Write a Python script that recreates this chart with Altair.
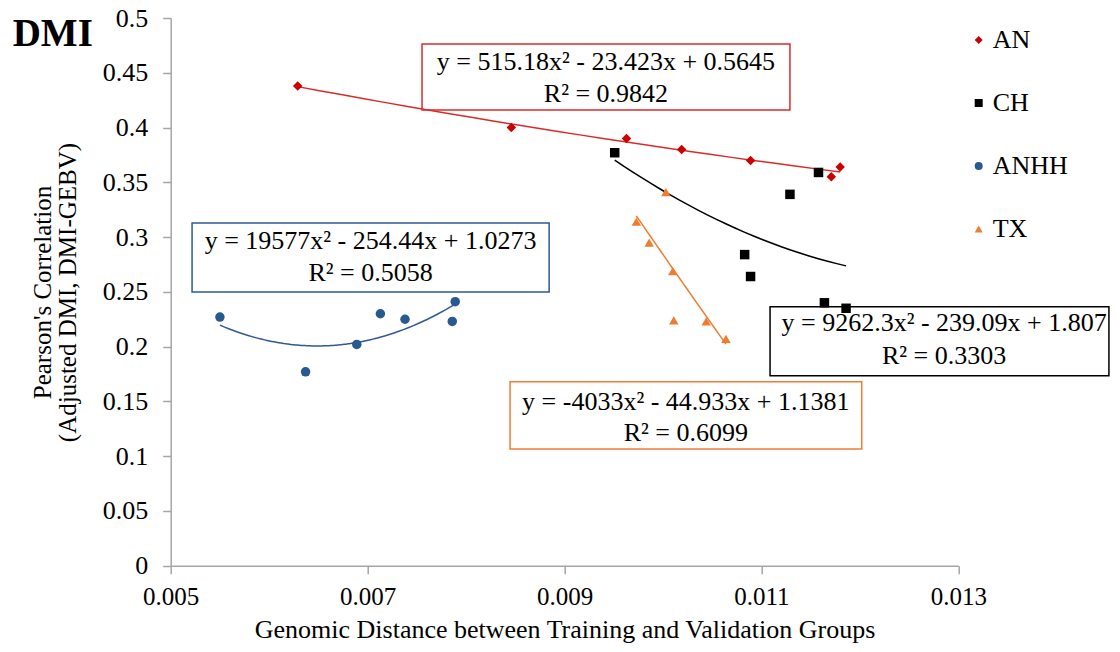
import altair as alt
import pandas as pd

# ---------------- data ----------------
groups = ["AN", "CH", "ANHH", "TX"]
colors = ["#CC0000", "#000000", "#285A91", "#ED7D31"]
line_colors = ["#D92B2B", "#000000", "#2F5A94", "#ED7D31"]
shapes = ["diamond", "square", "circle", "triangle-up"]

an_x = [0.00629, 0.00846, 0.00963, 0.01019, 0.01089, 0.01171, 0.01180]
an_y = [0.438, 0.400, 0.390, 0.380, 0.370, 0.355, 0.364]

ch_x = [0.00951, 0.01083, 0.01089, 0.01129, 0.01158, 0.01164, 0.01186]
ch_y = [0.377, 0.284, 0.264, 0.339, 0.359, 0.240, 0.235]

anhh_x = [0.00550, 0.00637, 0.00689, 0.00713, 0.00738, 0.00786, 0.00789]
anhh_y = [0.227, 0.177, 0.202, 0.230, 0.225, 0.223, 0.241]

tx_x = [0.00973, 0.00986, 0.01003, 0.01010, 0.01011, 0.01044, 0.01064]
tx_y = [0.314, 0.295, 0.341, 0.269, 0.224, 0.223, 0.207]

x_ticks = [0.005, 0.007, 0.009, 0.011, 0.013]
y_ticks = [0, 0.05, 0.1, 0.15, 0.2, 0.25, 0.3, 0.35, 0.4, 0.45, 0.5]

x_title = "Genomic Distance between Training and Validation  Groups"
y_title = ["Pearson's Correlation", "(Adjusted DMI, DMI-GEBV)"]
chart_label = "DMI"

# trendline equation labels
eq_groups = ["AN", "ANHH", "CH", "TX"]
eq_line1 = [
    "y = 515.18x\u00b2  - 23.423x + 0.5645",
    "y = 19577x\u00b2  - 254.44x + 1.0273",
    "y = 9262.3x\u00b2  - 239.09x + 1.807",
    "y = -4033x\u00b2  - 44.933x + 1.1381",
]
eq_line2 = ["R\u00b2 = 0.9842", "R\u00b2 = 0.5058", "R\u00b2 = 0.3303", "R\u00b2 = 0.6099"]

# label box placement (data units)
box_x1 = [0.007553, 0.005217, 0.011088, 0.008447]
box_x2 = [0.011290, 0.008844, 0.014530, 0.012019]
box_y1 = [0.4763, 0.3129, 0.2364, 0.1680]
box_y2 = [0.4160, 0.2499, 0.1735, 0.1065]
lab_x = [0.009421, 0.007030, 0.012856, 0.010232]
lab_y1 = [0.4594, 0.2967, 0.2213, 0.1497]
lab_y2 = [0.4306, 0.2669, 0.1917, 0.1209]

# ---------------- tables ----------------
rows = []
for g, xs_, ys_ in zip(groups, [an_x, ch_x, anhh_x, tx_x], [an_y, ch_y, anhh_y, tx_y]):
    for a, b in zip(xs_, ys_):
        rows.append({"group": g, "x": a, "y": b})
df = pd.DataFrame(rows)

boxes = pd.DataFrame({"group": eq_groups, "x": box_x1, "x2": box_x2, "y": box_y1, "y2": box_y2})
labels = pd.DataFrame({
    "group": eq_groups * 2,
    "x": lab_x * 2,
    "y": lab_y1 + lab_y2,
    "text": eq_line1 + eq_line2,
})

FONT = "Liberation Serif"

xs = alt.Scale(domain=[0.005, 0.013], nice=False, zero=False)
ys = alt.Scale(domain=[0, 0.5], nice=False)
x_axis = alt.Axis(values=x_ticks, format=".3f", labelPadding=11, titleY=72,
                  titleBaseline="alphabetic", labelFlush=False,
                  labelFont=FONT, titleFont=FONT, labelFontSize=25, titleFontSize=26)
y_axis = alt.Axis(values=y_ticks, format="~g", labelPadding=15, titleX=-128, titleY=274,
                  titleBaseline="middle", titleAlign="center", titleAngle=-90,
                  titleLineHeight=25,
                  labelFont=FONT, titleFont=FONT, labelFontSize=26, titleFontSize=25)

X = alt.X("x:Q", scale=xs, axis=x_axis, title=x_title)
Y = alt.Y("y:Q", scale=ys, axis=y_axis, title=y_title)

color_scale = alt.Scale(domain=groups, range=colors)
shape_scale = alt.Scale(domain=groups, range=shapes)

legend = alt.Legend(orient="none", legendX=795, legendY=9, title=None,
                    labelFontSize=26, rowPadding=37, symbolSize=64, labelOffset=1,
                    labelFont=FONT, labelColor="black")

layers = []
# label boxes (drawn first, below the data)
for g, c in zip(groups, line_colors):
    layers.append(
        alt.Chart(boxes).transform_filter(alt.datum.group == g)
        .mark_rect(fill="white", stroke=c, strokeWidth=1.5)
        .encode(x=X, x2="x2:Q", y=Y, y2="y2:Q")
    )
# polynomial (order 2) trend lines
for g, c in zip(groups, line_colors):
    layers.append(
        alt.Chart(df).transform_filter(alt.datum.group == g)
        .transform_regression("x", "y", method="poly", order=2)
        .mark_line(color=c, strokeWidth=1.5)
        .encode(x=X, y=Y)
    )

points = alt.Chart(df).mark_point(filled=True, opacity=1, size=90).encode(
    x=X, y=Y,
    color=alt.Color("group:N", scale=color_scale, legend=legend),
    shape=alt.Shape("group:N", scale=shape_scale, legend=legend),
)
layers.append(points)

layers.append(
    alt.Chart(labels).mark_text(
        font=FONT, fontSize=26, color="black", align="center", baseline="middle"
    ).encode(x=X, y=Y, text="text:N")
)

layers.append(
    alt.Chart(pd.DataFrame({"t": [chart_label]})).mark_text(
        font=FONT, fontSize=39, fontWeight="bold", color="black", align="left",
        baseline="alphabetic"
    ).encode(text="t:N", x=alt.value(-158), y=alt.value(28))
)

chart = alt.layer(*layers).properties(
    width=787.6, height=547.7,
    autosize=alt.AutoSizeParams(type="none"),
    padding={"left": 162.7, "top": 10, "right": 153.7, "bottom": 78.3},
).configure_view(stroke=None).configure_axis(
    grid=False, domainColor="#A6A6A6", tickColor="#A6A6A6", domainWidth=1.5,
    tickWidth=1.5, tickSize=8, labelColor="black", titleColor="black",
    titleFontWeight="normal",
)

chart.save("out.html", embed_options={"renderer": "svg", "actions": False})
